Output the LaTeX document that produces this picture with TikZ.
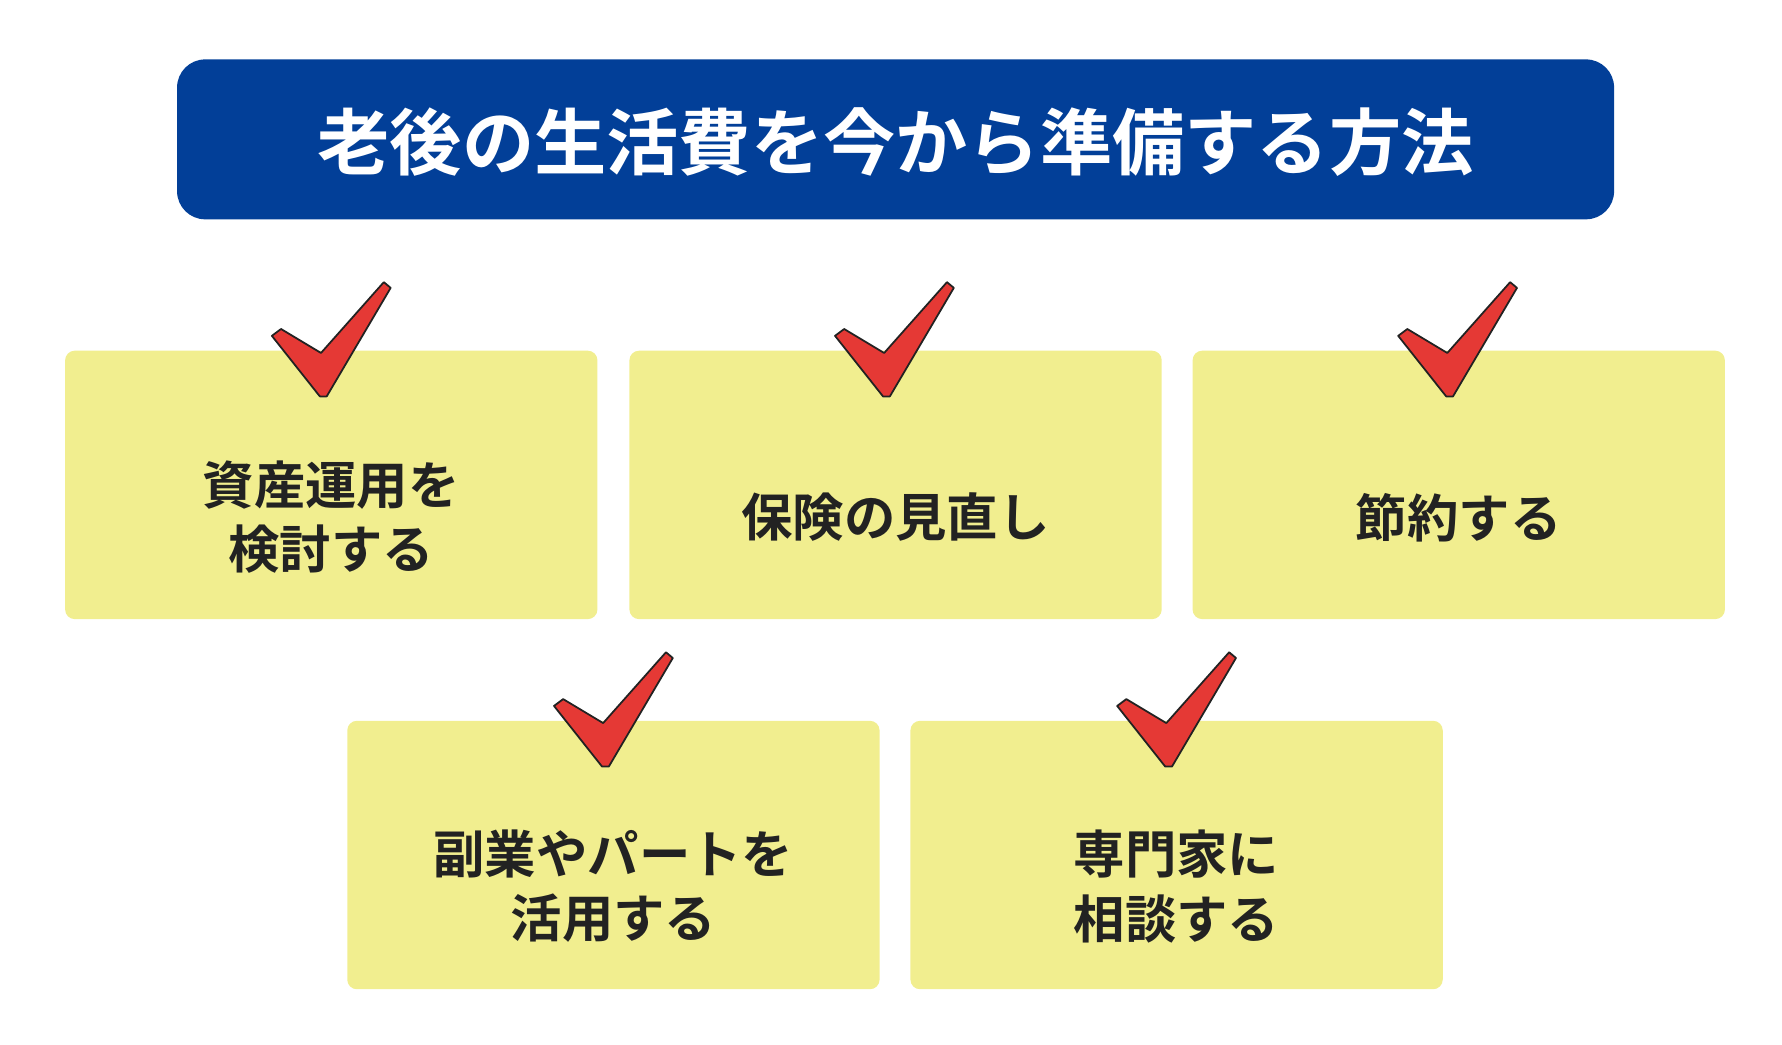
\documentclass[tikz,border=0pt]{standalone}
\usepackage{fontspec}
\newfontfamily\jp{Noto Sans CJK JP Bold}
\definecolor{navy}{HTML}{023F98}
\definecolor{pad}{HTML}{F1EE8F}
\definecolor{ink}{HTML}{222222}
\definecolor{chk}{HTML}{E53935}
\tikzset{
 card/.style={fill=pad,rounded corners=12pt},
 cardtext/.style={font=\jp\fontsize{64}{80}\selectfont,text=ink,align=center},
 tick/.style={fill=chk,draw=ink,line width=2.2pt,line join=round}
}
\newcommand{\checkat}[2]{%
 \draw[tick] (#1+3,#2) -- ++(-6,0) -- ++(-42,-53) -- ++(8,-6) -- ++(35,21) -- ++(55,-62) -- ++(6,5) -- cycle;}
\begin{document}
\begin{tikzpicture}[x=0.05cm,y=-0.05cm]
\useasboundingbox (0,0) rectangle (1560,914);
\node[fill=navy,rounded corners=35pt,minimum width=1258*0.05cm,minimum height=140*0.05cm,inner sep=0] (title) at (784,122) {};
\node[font=\jp\fontsize{90}{100}\selectfont,text=white] (tt) at (784,124) {老後の生活費を今から準備する方法};
\foreach \x/\y/\n in {57/307/a,551/307/b,1044/307/c,304/631/d,797/631/e}{
 \fill[card] (\x,\y) rectangle ++(466,235);
}
\node[cardtext] (ta) at (290,453) {資産運用を\\検討する};
\node[cardtext] (tb) at (784,453) {保険の見直し};
\node[cardtext] (tc) at (1277,453) {節約する};
\node[cardtext] (td) at (537,776) {副業やパートを\\活用する};
\node[cardtext] (te) at (1030,776) {専門家に\\相談する};
\checkat{283}{347}
\checkat{776}{347}
\checkat{1269}{347}
\checkat{530}{671}
\checkat{1023}{671}
\end{tikzpicture}
\end{document}
